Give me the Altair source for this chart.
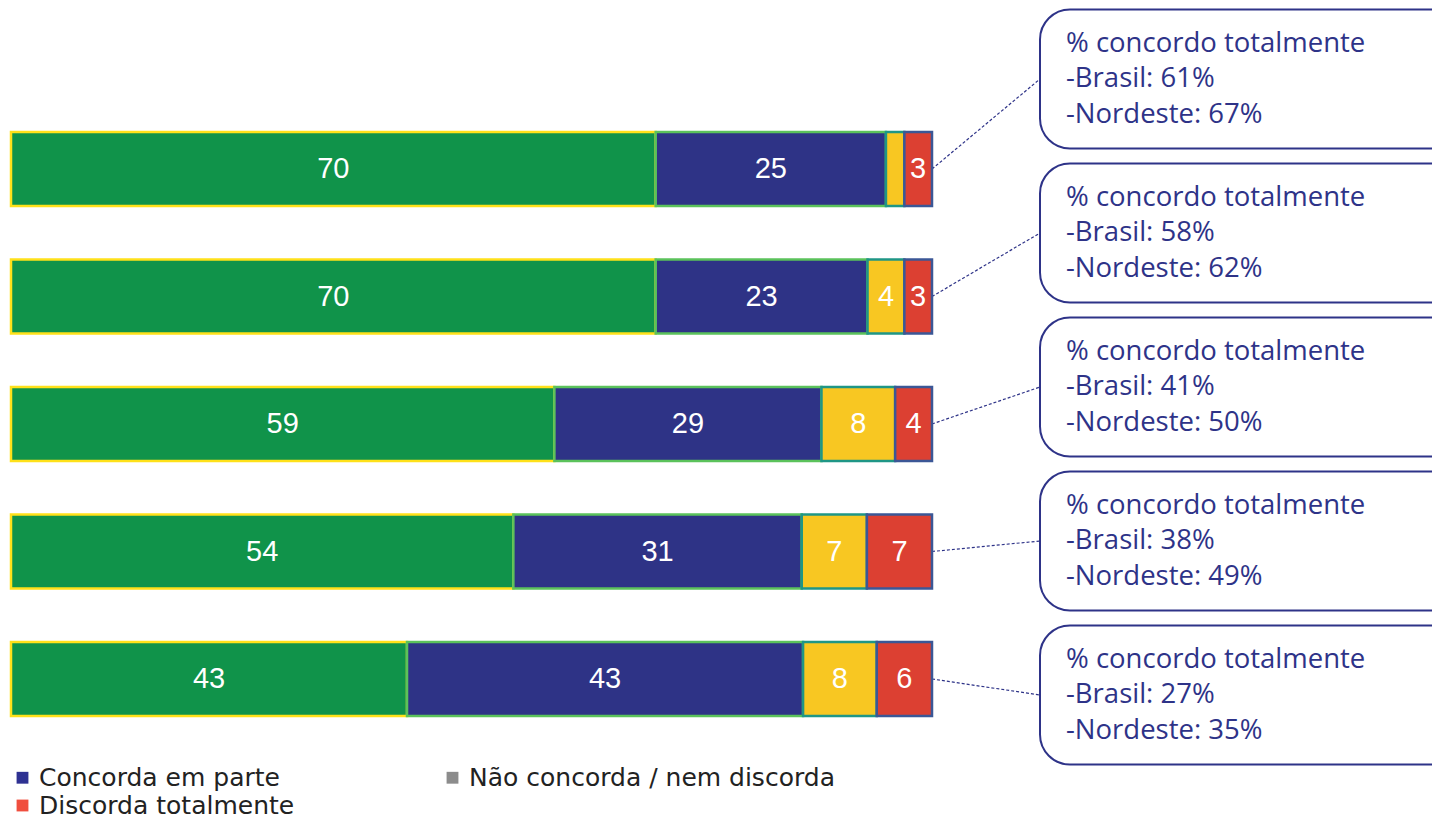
import altair as alt
import pandas as pd

# ---------------- data ----------------
rows = [0, 1, 2, 3, 4]
categories = ["Concorda totalmente", "Concorda em parte",
              "Não concorda / nem discorda", "Discorda totalmente"]
concorda_totalmente = [70, 70, 59, 54, 43]
concorda_em_parte = [25, 23, 29, 31, 43]
nem_nem = [2, 4, 8, 7, 8]
discorda_totalmente = [3, 3, 4, 7, 6]

brasil = [61, 58, 41, 38, 27]
nordeste = [67, 62, 50, 49, 35]

legend_items = ["Concorda em parte", "Não concorda / nem discorda", "Discorda totalmente"]

# ---------------- styles ----------------
fills = ["#10934a", "#2e3386", "#f8c722", "#dc4032"]
strokes = ["#ffe11a", "#5bc25b", "#1f9686", "#3b5796"]
legend_colors = ["#2e3192", "#8c8c8c", "#f04e3e"]
NAVY = "#2e3388"

# ---------------- layout ----------------
W, H = 1424, 812
PX_PER_UNIT_X = 921.0          # pixels for a full (100%) bar
X0 = -3 / PX_PER_UNIT_X
X1 = X0 + W / PX_PER_UNIT_X
ROW_PX = 127.5                 # pixels between bar rows
Y0 = -161 / ROW_PX
Y1 = Y0 + H / ROW_PX


def fx(px):
    return X0 + px / PX_PER_UNIT_X


def fy(px):
    return Y0 + px / ROW_PX


BAR_HALF = 37 / ROW_PX
BOX_C0 = fy(71)
BOX_STEP = 154 / ROW_PX
BOX_HALF = 69.5 / ROW_PX
LINE_STEP = 35.5 / ROW_PX
BOX_L = fx(1032)
BOX_R = fx(W + 60)
TEXT_L = fx(1058)

xs = alt.Scale(domain=[X0, X1], nice=False, zero=False)
ys = alt.Scale(domain=[Y0, Y1], nice=False, zero=False, reverse=True)

# ---------------- tables ----------------
series = [concorda_totalmente, concorda_em_parte, nem_nem, discorda_totalmente]
long = pd.DataFrame(
    [{"row": r, "cat": c, "order": k, "value": s[i]}
     for k, (c, s) in enumerate(zip(categories, series))
     for i, r in enumerate(rows)]
)
boxes = pd.DataFrame({"row": rows, "brasil": brasil, "nordeste": nordeste})
lines = pd.DataFrame(
    [{"row": r, "line": j, "txt": t}
     for r, b, n in zip(rows, brasil, nordeste)
     for j, t in enumerate(["% concordo totalmente", f"-Brasil: {b}%", f"-Nordeste: {n}%"])]
)
leg = pd.DataFrame({"item": legend_items})

stacked = alt.Chart(long).transform_stack(
    stack="value", as_=["x0", "x1"], groupby=["row"],
    sort=[alt.SortField("order", order="ascending")], offset="normalize"
)

bars = stacked.transform_calculate(
    yt=f"datum.row - {BAR_HALF}", yb=f"datum.row + {BAR_HALF}"
).mark_rect(strokeWidth=2.5).encode(
    x=alt.X("x0:Q", scale=xs, axis=None),
    x2="x1:Q",
    y=alt.Y("yt:Q", scale=ys, axis=None),
    y2="yb:Q",
    fill=alt.Fill("cat:N", scale=alt.Scale(domain=categories, range=fills), legend=None),
    stroke=alt.Stroke("cat:N", scale=alt.Scale(domain=categories, range=strokes), legend=None),
)

labels = stacked.transform_filter("datum.value >= 3").transform_calculate(
    xm="(datum.x0 + datum.x1) / 2"
).mark_text(color="white", font="Liberation Sans", fontSize=29,
            align="center", baseline="middle").encode(
    x=alt.X("xm:Q", scale=xs, axis=None),
    y=alt.Y("row:Q", scale=ys, axis=None),
    text="value:Q",
)

box_base = alt.Chart(boxes).transform_calculate(
    bc=f"{BOX_C0} + datum.row * {BOX_STEP}",
    bt=f"{BOX_C0} + datum.row * {BOX_STEP} - {BOX_HALF}",
    bb=f"{BOX_C0} + datum.row * {BOX_STEP} + {BOX_HALF}",
)

connectors = box_base.mark_rule(color=NAVY, strokeWidth=1.2, strokeDash=[3, 2]).encode(
    x=alt.X(datum=1.0, scale=xs, axis=None),
    x2=alt.X2(datum=BOX_L),
    y=alt.Y("row:Q", scale=ys, axis=None),
    y2="bc:Q",
)

rects = box_base.mark_rect(fill="white", stroke=NAVY, strokeWidth=2,
                           cornerRadius=30, clip=True).encode(
    x=alt.X(datum=BOX_L, scale=xs, axis=None),
    x2=alt.X2(datum=BOX_R),
    y=alt.Y("bt:Q", scale=ys, axis=None),
    y2="bb:Q",
)

box_text = alt.Chart(lines).transform_calculate(
    ly=f"{BOX_C0} + datum.row * {BOX_STEP} + (datum.line - 1) * {LINE_STEP}"
).mark_text(color=NAVY, font="Open Sans", fontSize=27.5, align="left", baseline="middle").encode(
    x=alt.X(datum=TEXT_L, scale=xs, axis=None),
    y=alt.Y("ly:Q", scale=ys, axis=None),
    text="txt:N",
)

legend_layer = alt.Chart(leg).mark_square(opacity=0, filled=True).encode(
    color=alt.Color(
        "item:N",
        scale=alt.Scale(domain=legend_items, range=legend_colors),
        sort=legend_items,
        legend=alt.Legend(
            title=None, orient="none", legendX=2, legendY=757,
            direction="horizontal",
            columns=2, columnPadding=145, rowPadding=2,
            symbolType="square", symbolSize=140, symbolStrokeWidth=0,
            symbolOpacity=1, labelFont="DejaVu Sans", labelFontSize=25,
            labelColor="#222222", labelOffset=4, labelLimit=600, padding=0,
        ),
    )
)

chart = alt.layer(connectors, bars, labels, rects, box_text, legend_layer).properties(
    width=W, height=H, padding=0,
    autosize=alt.AutoSizeParams(type="none"),
    background="white",
).configure_view(stroke=None)

chart.save("out.html", embed_options={"renderer": "svg", "actions": False})
